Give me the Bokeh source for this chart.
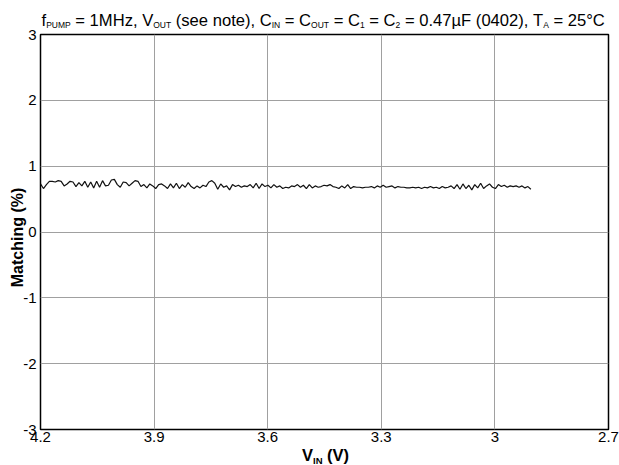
import numpy as np
from bokeh.plotting import figure
from bokeh.models import Range1d, FixedTicker, Label, Div
from bokeh.layouts import column
from bokeh.embed import file_html
from bokeh.resources import INLINE

# ---------------- data ----------------
vin_start = 4.2
vin_stop = 2.905
matching = [
    0.73, 0.66, 0.72, 0.77, 0.77, 0.76, 0.78, 0.77, 0.70, 0.73,
    0.77, 0.76, 0.69, 0.75, 0.70, 0.77, 0.68, 0.76, 0.67, 0.77,
    0.68, 0.78, 0.70, 0.71, 0.79, 0.80, 0.72, 0.68, 0.76, 0.75,
    0.70, 0.74, 0.78, 0.77, 0.69, 0.72, 0.67, 0.73, 0.70, 0.66,
    0.72, 0.73,
    0.70, 0.66, 0.73, 0.67, 0.74, 0.66, 0.72, 0.68, 0.75, 0.69,
    0.66, 0.70, 0.67, 0.71, 0.69, 0.76, 0.78, 0.74, 0.65, 0.73,
    0.68, 0.70, 0.64, 0.72, 0.69, 0.71, 0.68, 0.70, 0.69, 0.72,
    0.67, 0.74, 0.66, 0.73, 0.69, 0.71, 0.67, 0.72, 0.68, 0.70,
    0.66, 0.68, 0.67, 0.70, 0.69, 0.72, 0.68, 0.71, 0.66, 0.72,
    0.67, 0.70, 0.68, 0.69, 0.71, 0.70, 0.72, 0.69, 0.68, 0.66,
    0.70, 0.67, 0.72, 0.66, 0.69, 0.68, 0.68, 0.67, 0.68, 0.68,
    0.69, 0.67, 0.70, 0.68, 0.71, 0.68, 0.69, 0.70, 0.67, 0.69,
    0.68, 0.68,
    0.67, 0.67, 0.68, 0.67, 0.68, 0.66, 0.68, 0.67, 0.69, 0.67,
    0.68, 0.66, 0.69, 0.67, 0.68, 0.70, 0.66, 0.72, 0.65, 0.73,
    0.66, 0.71, 0.64, 0.72, 0.67, 0.74, 0.66, 0.70, 0.73, 0.68,
    0.66, 0.72, 0.69, 0.71, 0.68, 0.70, 0.69, 0.70, 0.68, 0.70,
    0.67, 0.69, 0.65,
]
x_ticks = [4.2, 3.9, 3.6, 3.3, 3.0, 2.7]
x_tick_labels = ["4.2", "3.9", "3.6", "3.3", "3", "2.7"]
y_ticks = [-3, -2, -1, 0, 1, 2, 3]
y_tick_labels = ["-3", "-2", "-1", "0", "1", "2", "3"]
title_parts = [("f", False), ("PUMP", True), (" = 1MHz, V", False), ("OUT", True),
               (" (see note), C", False), ("IN", True), (" = C", False), ("OUT", True),
               (" = C", False), ("1", True), (" = C", False), ("2", True),
               (" = 0.47µF (0402), T", False), ("A", True), (" = 25°C", False)]
xlabel_parts = [("V", False), ("IN", True), (" (V)", False)]
ylabel_text = "Matching (%)"

vin = np.linspace(vin_start, vin_stop, len(matching))

FONT = "Liberation Sans"
W = 619


def html_parts(parts, main_px, sub_px, sub_drop, weight):
    out = []
    for t, sub in parts:
        t = t.replace(" ", "&nbsp;") if t.startswith(" ") else t
        if sub:
            out.append(f'<span style="font-size:{sub_px}px;vertical-align:-{sub_drop}px;'
                       f'line-height:0">{t}</span>')
        else:
            out.append(t)
    return (f'<div style="font-family:\'{FONT}\';font-size:{main_px}px;font-weight:{weight};'
            f'color:#000;white-space:nowrap;line-height:{main_px}px;'), "".join(out)


# ---------------- title (HTML, for subscripts) ----------------
st, body = html_parts(title_parts, 16.6, 8.5, 2.3, "normal")
title_div = Div(text=st + 'padding-left:41.5px;padding-top:12.8px">' + body + "</div>",
                width=W, height=32, margin=0)

# ---------------- plot ----------------
p = figure(width=W, height=426, output_backend="svg", toolbar_location=None,
           x_range=Range1d(4.2, 2.7), y_range=Range1d(-3, 3), title=None,
           min_border_left=40, min_border_right=11, min_border_top=12,
           min_border_bottom=19, margin=(-10, 0, 0, 0))
p.background_fill_color = "white"
p.border_fill_color = None
p.outline_line_color = "black"
p.outline_line_width = 1.5

for ax, ticks, labels, standoff in ((p.xaxis[0], x_ticks, x_tick_labels, 2),
                                    (p.yaxis[0], y_ticks, y_tick_labels, 4)):
    ax.ticker = FixedTicker(ticks=ticks)
    ax.major_label_overrides = {t: l for t, l in zip(ticks, labels)}
    ax.axis_line_color = None
    ax.major_tick_line_color = None
    ax.minor_tick_line_color = None
    ax.major_tick_in = 0
    ax.major_tick_out = 0
    ax.major_label_standoff = standoff
    ax.major_label_text_font = FONT
    ax.major_label_text_font_size = "15px"
    ax.major_label_text_color = "black"

p.xgrid.ticker = FixedTicker(ticks=x_ticks)
p.ygrid.ticker = FixedTicker(ticks=y_ticks)
for g in (p.xgrid[0], p.ygrid[0]):
    g.grid_line_color = "#a0a0a0"
    g.grid_line_width = 1

p.line(vin, matching, line_color="#111111", line_width=1.2)

# y axis label (single text, kept in the left side panel so it is not clipped)
p.add_layout(Label(x=4.2, y=0, x_offset=-23, y_offset=-5.5, text=ylabel_text, angle=np.pi / 2,
                   text_font=FONT, text_font_size="16px", text_font_style="bold",
                   text_align="center", text_baseline="alphabetic", text_color="black"), "left")

# ---------------- x axis label (HTML, for subscript) ----------------
st, body = html_parts(xlabel_parts, 16.5, 9.5, 2.5, "bold")
xlabel_div = Div(text=st + 'padding-left:302px;position:relative;top:-1.5px">' + body + "</div>",
                 width=W, height=17, margin=0)

layout = column(title_div, p, xlabel_div, spacing=0, margin=0)

open("out.html", "w").write(file_html(layout, INLINE))
